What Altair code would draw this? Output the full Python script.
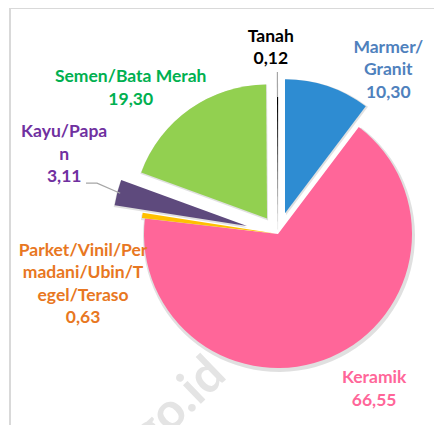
import altair as alt
import pandas as pd
import numpy as np

# ---- data ----
categories = ["Marmer/Granit", "Keramik", "Parket/Vinil/Permadani/Ubin/Tegel/Teraso",
              "Kayu/Papan", "Semen/Bata Merah", "Tanah"]
values = [10.30, 66.55, 0.63, 3.11, 19.30, 0.12]
value_labels = ["10,30", "66,55", "0,63", "3,11", "19,30", "0,12"]
name_lines = [["Marmer/", "Granit"], ["Keramik"],
              ["Parket/Vinil/Per", "madani/Ubin/T", "egel/Teraso"],
              ["Kayu/Papa", "n"], ["Semen/Bata Merah"], ["Tanah"]]

# ---- styles ----
slice_colors = ["#2E8CD2", "#FF6699", "#FFC000", "#5E4A7D", "#92D050", "#000000"]
text_colors = ["#4F81BD", "#FF6699", "#E87722", "#7030A0", "#00B050", "#000000"]
explode = [22, 0, 3, 32, 19, 3]
label_r = [197.5, 182.7, 201.4, 228, 207, 186]
label_shift = [15.4, -8.6, -22.3, 5.8, -10.2, -2.0]

W, H = 426, 417
CX, CY = 270, 226
R = 134
FONT = "Lato"
LH = 22.5

total = float(sum(values))
cum = np.concatenate([[0.0], np.cumsum(values)])

rows = []
for i, cat in enumerate(categories):
    mid = (cum[i] + cum[i + 1]) / 2 / total * 360.0
    a = np.radians(mid)
    la = np.radians(mid + label_shift[i])
    lines = name_lines[i] + [value_labels[i]]
    rows.append({
        "cat": cat,
        "value": values[i],
        "t0": cum[i],
        "t1": cum[i + 1],
        "ox": CX + explode[i] * np.sin(a),
        "oy": CY - explode[i] * np.cos(a),
        "lx": CX + label_r[i] * np.sin(la),
        "ly": CY - label_r[i] * np.cos(la) - (len(lines) - 1) * LH / 2,
        "label": "\n".join(lines),
        "scolor": slice_colors[i],
        "tcolor": text_colors[i],
    })
df = pd.DataFrame(rows)

# leader lines (Kayu/Papan and Tanah), from slice edge outward
lead_rows = []
def pol(r, deg, ox=CX, oy=CY):
    a = np.radians(deg)
    return ox + r * np.sin(a), oy - r * np.cos(a)

ki = 3
kmid = (cum[ki] + cum[ki + 1]) / 2 / total * 360.0
kx0, ky0 = pol(R - 3, kmid, df.loc[ki, "ox"], df.loc[ki, "oy"])
kx1, ky1 = pol(188, 285.7)
lead_rows += [{"g": "kayu", "o": 0, "x": kx0, "y": ky0},
              {"g": "kayu", "o": 1, "x": kx1, "y": ky1},
              {"g": "kayu", "o": 2, "x": kx1 - 11, "y": ky1}]
ti = 5
tmid = (cum[ti] + cum[ti + 1]) / 2 / total * 360.0
tx0, ty0 = pol(R, tmid, df.loc[ti, "ox"], df.loc[ti, "oy"])
tx1, ty1 = pol(R + 28, tmid)
lead_rows += [{"g": "tanah", "o": 0, "x": tx0, "y": ty0},
              {"g": "tanah", "o": 1, "x": tx1, "y": ty1}]
lead = pd.DataFrame(lead_rows)

xs = alt.Scale(domain=[0, W], nice=False, zero=False)
ys = alt.Scale(domain=[0, H], nice=False, zero=False, reverse=True)
ts = alt.Scale(domain=[0, total], range=[0, 2 * np.pi], nice=False, zero=True)

base = alt.Chart(df)

watermark = alt.Chart(pd.DataFrame({"t": ["go.id"]})).mark_text(
    font=FONT, fontWeight="bold", fontSize=50, color="#E4E4E4", angle=316,
    align="center", baseline="middle"
).encode(x=alt.value(171), y=alt.value(396), text="t:N")

shadow = base.transform_calculate(
    sx="datum.ox + 1", sy="datum.oy + 2"
).mark_arc(radius=R + 2, color="#000000", opacity=0.12).encode(
    x=alt.X("sx:Q", scale=xs, axis=None),
    y=alt.Y("sy:Q", scale=ys, axis=None),
    theta=alt.Theta("t0:Q", scale=ts),
    theta2="t1:Q",
)

slices = base.mark_arc(radius=R).encode(
    x=alt.X("ox:Q", scale=xs, axis=None),
    y=alt.Y("oy:Q", scale=ys, axis=None),
    theta=alt.Theta("t0:Q", scale=ts),
    theta2="t1:Q",
    color=alt.Color("scolor:N", scale=None),
)

leaders = alt.Chart(lead).mark_line(color="#A6A6A6", strokeWidth=1.2).encode(
    x=alt.X("x:Q", scale=xs, axis=None),
    y=alt.Y("y:Q", scale=ys, axis=None),
    detail="g:N",
    order="o:Q",
)

labels = base.mark_text(
    font=FONT, fontWeight="bold", fontSize=17.5, lineBreak="\n", lineHeight=LH,
    align="center", baseline="middle"
).encode(
    x=alt.X("lx:Q", scale=xs, axis=None),
    y=alt.Y("ly:Q", scale=ys, axis=None),
    text="label:N",
    color=alt.Color("tcolor:N", scale=None),
)

frame_left = alt.Chart(df).mark_rule(color="#D9D9D9", strokeWidth=1.5).encode(
    x=alt.value(2), y=alt.value(0), y2=alt.value(H))
frame_top = alt.Chart(df).mark_rule(color="#D9D9D9", strokeWidth=1.5).encode(
    x=alt.value(2), x2=alt.value(W), y=alt.value(0))

chart = alt.layer(
    frame_left, frame_top, watermark, shadow, slices, leaders, labels
).properties(
    width=W, height=H, padding=0,
    autosize=alt.AutoSizeParams(type="none"),
).configure_view(stroke=None)

chart.save("out.html", embed_options={"renderer": "svg", "actions": False})
